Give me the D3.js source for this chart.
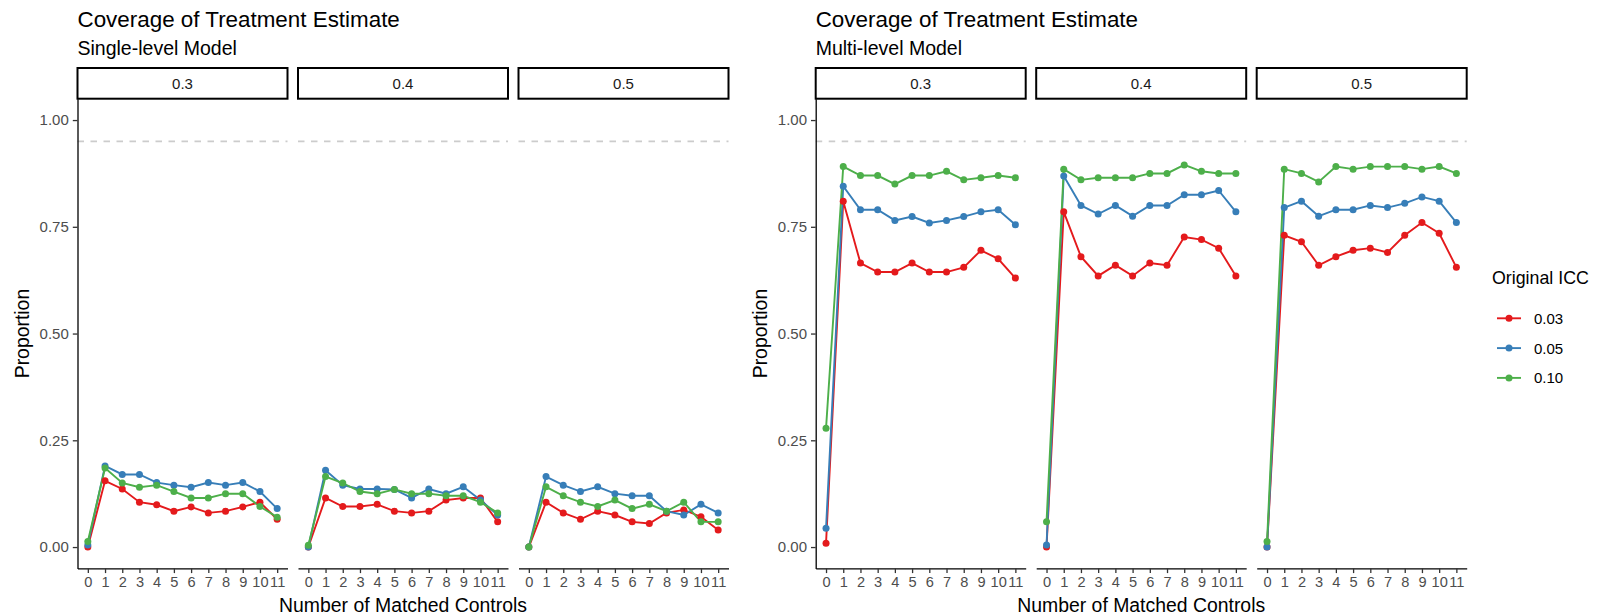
<!DOCTYPE html>
<html>
<head>
<meta charset="utf-8">
<script src="https://cdn.jsdelivr.net/npm/d3@7"></script>
<style>
  body { margin: 0; background: #fff; }
  svg { display: block; font-family: "Liberation Sans", Arial, sans-serif; }
</style>
</head>
<body>
<svg id="chart" width="1610" height="616"></svg>
<script>
// x values and facet / group labels
const matched = [0, 1, 2, 3, 4, 5, 6, 7, 8, 9, 10, 11];
const facets = ["0.3", "0.4", "0.5"];
const iccLevels = ["0.03", "0.05", "0.10"];
const iccColors = ["#E41A1C", "#377EB8", "#4DAF4A"];
const yTicks = [0, 0.25, 0.5, 0.75, 1];
const targetCoverage = 0.95;

// Single-level model, facet 0.3 / 0.4 / 0.5, by ICC
const single03_icc003 = [0.000, 0.155, 0.136, 0.105, 0.099, 0.084, 0.094, 0.080, 0.084, 0.094, 0.105, 0.065];
const single03_icc005 = [0.005, 0.190, 0.170, 0.170, 0.151, 0.145, 0.140, 0.151, 0.145, 0.151, 0.130, 0.090];
const single03_icc010 = [0.013, 0.185, 0.150, 0.140, 0.145, 0.130, 0.115, 0.115, 0.125, 0.125, 0.095, 0.070];

const single04_icc003 = [0.000, 0.115, 0.095, 0.095, 0.100, 0.084, 0.080, 0.084, 0.110, 0.115, 0.115, 0.059];
const single04_icc005 = [0.000, 0.180, 0.145, 0.136, 0.136, 0.135, 0.115, 0.136, 0.125, 0.141, 0.110, 0.075];
const single04_icc010 = [0.004, 0.165, 0.150, 0.130, 0.125, 0.135, 0.125, 0.125, 0.120, 0.120, 0.105, 0.080];

const single05_icc003 = [0.000, 0.105, 0.080, 0.065, 0.084, 0.075, 0.059, 0.055, 0.080, 0.087, 0.071, 0.040];
const single05_icc005 = [0.000, 0.165, 0.145, 0.130, 0.141, 0.125, 0.120, 0.120, 0.084, 0.075, 0.100, 0.080];
const single05_icc010 = [0.000, 0.141, 0.120, 0.105, 0.095, 0.110, 0.090, 0.100, 0.084, 0.105, 0.059, 0.059];

// Multi-level model
const multi03_icc003 = [0.009, 0.810, 0.665, 0.644, 0.644, 0.665, 0.644, 0.644, 0.655, 0.695, 0.675, 0.630];
const multi03_icc005 = [0.044, 0.845, 0.790, 0.790, 0.765, 0.774, 0.759, 0.765, 0.774, 0.785, 0.790, 0.755];
const multi03_icc010 = [0.278, 0.891, 0.870, 0.870, 0.850, 0.870, 0.870, 0.880, 0.860, 0.865, 0.870, 0.865];

const multi04_icc003 = [0.000, 0.785, 0.680, 0.635, 0.660, 0.635, 0.665, 0.660, 0.726, 0.720, 0.700, 0.635];
const multi04_icc005 = [0.005, 0.869, 0.800, 0.780, 0.800, 0.775, 0.800, 0.800, 0.825, 0.825, 0.835, 0.785];
const multi04_icc010 = [0.059, 0.885, 0.860, 0.865, 0.865, 0.865, 0.875, 0.875, 0.895, 0.880, 0.875, 0.875];

const multi05_icc003 = [0.000, 0.730, 0.715, 0.660, 0.680, 0.695, 0.700, 0.690, 0.730, 0.760, 0.735, 0.655];
const multi05_icc005 = [0.000, 0.795, 0.810, 0.775, 0.790, 0.790, 0.800, 0.795, 0.805, 0.820, 0.810, 0.760];
const multi05_icc010 = [0.013, 0.885, 0.875, 0.855, 0.891, 0.885, 0.891, 0.891, 0.891, 0.885, 0.891, 0.875];

const singlePanels = [
  [single03_icc003, single03_icc005, single03_icc010],
  [single04_icc003, single04_icc005, single04_icc010],
  [single05_icc003, single05_icc005, single05_icc010],
];
const multiPanels = [
  [multi03_icc003, multi03_icc005, multi03_icc010],
  [multi04_icc003, multi04_icc005, multi04_icc010],
  [multi05_icc003, multi05_icc005, multi05_icc010],
];

const svg = d3.select("#chart");

// layout (px)
const panelW = 210;
const panelGap = 10.5;
const firstPanelX = 77.5;
const stripTop = 68;
const panelTop = 98.7;
const panelBottom = 568.4;
const tickColor = "#4D4D4D";
const font = "'Liberation Sans', Arial, sans-serif";

const y = d3.scaleLinear().domain([-0.05, 1.05]).range([panelBottom, panelTop]);

function drawPlot(offsetX, subtitle, panels) {
  const g = svg.append("g").attr("transform", `translate(${offsetX},0)`);

  // titles
  g.append("text")
    .attr("x", firstPanelX)
    .attr("y", 26.5)
    .text("Coverage of Treatment Estimate")
    .style("font-size", "22.4px")
    .style("fill", "#000");

  g.append("text")
    .attr("x", firstPanelX)
    .attr("y", 54.5)
    .text(subtitle)
    .style("font-size", "19.5px")
    .style("fill", "#000");

  panels.forEach((series, i) => {
    const left = firstPanelX + i * (panelW + panelGap);
    const x = d3.scaleLinear().domain([-0.6, 11.6]).range([left, left + panelW]);

    // strip
    g.append("rect")
      .attr("x", left)
      .attr("y", stripTop)
      .attr("width", panelW)
      .attr("height", panelTop - stripTop)
      .attr("fill", "#fff")
      .attr("stroke", "#000")
      .attr("stroke-width", 2);

    g.append("text")
      .attr("x", left + panelW / 2)
      .attr("y", (stripTop + panelTop) / 2)
      .attr("dy", "0.36em")
      .attr("text-anchor", "middle")
      .text(facets[i])
      .style("font-size", "15px")
      .style("fill", "#1A1A1A");

    // reference line at 0.95
    g.append("line")
      .attr("x1", left)
      .attr("x2", left + panelW)
      .attr("y1", y(targetCoverage))
      .attr("y2", y(targetCoverage))
      .attr("stroke", "#CCCCCC")
      .attr("stroke-width", 1.6)
      .attr("stroke-dasharray", "6.5,6.5");

    // x axis
    const xAxis = g.append("g")
      .attr("transform", `translate(0,${panelBottom})`)
      .call(d3.axisBottom(x).tickValues(matched).tickSize(4.7).tickSizeOuter(0).tickPadding(3.5));
    xAxis.select(".domain").attr("stroke", "#000").attr("stroke-width", 1.3);
    xAxis.selectAll(".tick line").attr("stroke", "#333").attr("stroke-width", 1.3);
    xAxis.selectAll(".tick text")
      .style("font-size", "14.6px")
      .style("font-family", font)
      .attr("fill", tickColor);

    // y axis only on first panel
    if (i === 0) {
      const yAxis = g.append("g")
        .attr("transform", `translate(${left},0)`)
        .call(d3.axisLeft(y).tickValues(yTicks).tickFormat(d3.format(".2f")).tickSize(4.7).tickSizeOuter(0).tickPadding(4));
      yAxis.select(".domain").attr("stroke", "#000").attr("stroke-width", 1.3);
      yAxis.selectAll(".tick line").attr("stroke", "#333").attr("stroke-width", 1.3);
      yAxis.selectAll(".tick text")
        .style("font-size", "15px")
        .style("font-family", font)
        .attr("fill", tickColor);
    }

    // lines
    const line = d3.line()
      .x((d, k) => x(matched[k]))
      .y((d) => y(d));

    series.forEach((vals, s) => {
      g.append("path")
        .datum(vals)
        .attr("d", line)
        .attr("fill", "none")
        .attr("stroke", iccColors[s])
        .attr("stroke-width", 1.9);
    });

    // points
    series.forEach((vals, s) => {
      g.selectAll(null)
        .data(vals)
        .enter()
        .append("circle")
        .attr("cx", (d, k) => x(matched[k]))
        .attr("cy", (d) => y(d))
        .attr("r", 3.5)
        .attr("fill", iccColors[s]);
    });
  });

  // axis titles
  const spanLeft = firstPanelX;
  const spanRight = firstPanelX + 3 * panelW + 2 * panelGap;
  g.append("text")
    .attr("x", (spanLeft + spanRight) / 2)
    .attr("y", 612)
    .attr("text-anchor", "middle")
    .text("Number of Matched Controls")
    .style("font-size", "19.4px")
    .style("fill", "#000");

  g.append("text")
    .attr("transform", `translate(29,${(panelTop + panelBottom) / 2}) rotate(-90)`)
    .attr("text-anchor", "middle")
    .text("Proportion")
    .style("font-size", "19.4px")
    .style("fill", "#000");
}

drawPlot(0, "Single-level Model", singlePanels);
drawPlot(738.2, "Multi-level Model", multiPanels);

// legend
const legend = svg.append("g").attr("transform", "translate(1492,0)");
legend.append("text")
  .attr("x", 0)
  .attr("y", 284)
  .text("Original ICC")
  .style("font-size", "17.8px")
  .style("fill", "#000");

iccLevels.forEach((lab, i) => {
  const cy = 318.3 + i * 29.8;
  legend.append("line")
    .attr("x1", 5)
    .attr("x2", 29)
    .attr("y1", cy)
    .attr("y2", cy)
    .attr("stroke", iccColors[i])
    .attr("stroke-width", 1.9);
  legend.append("circle")
    .attr("cx", 17)
    .attr("cy", cy)
    .attr("r", 3.5)
    .attr("fill", iccColors[i]);
  legend.append("text")
    .attr("x", 42)
    .attr("y", cy)
    .attr("dy", "0.36em")
    .text(lab)
    .style("font-size", "15px")
    .style("fill", "#000");
});
</script>
</body>
</html>
